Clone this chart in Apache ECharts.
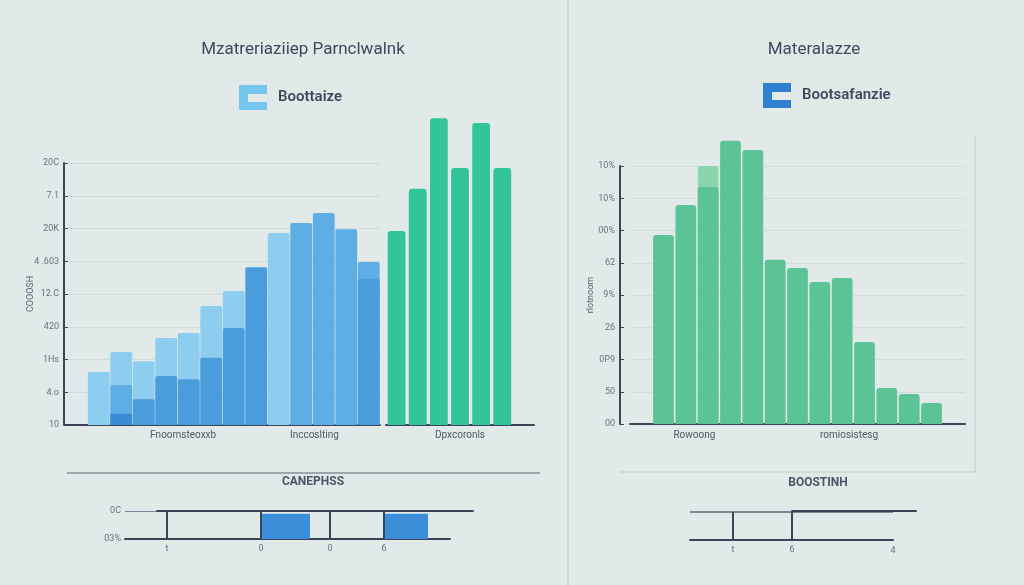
<!DOCTYPE html>
<html><head><meta charset="utf-8">
<script src="https://cdn.jsdelivr.net/npm/echarts/dist/echarts.min.js"></script>
<style>html,body{margin:0;padding:0;background:#e1eae9;}#c{width:1024px;height:585px;}</style>
</head><body><div id="c"></div>
<script>
// ---- texts ----
const leftTitle = 'Mzatreriaziiep Parnclwalnk';
const rightTitle = 'Materalazze';
const leftLegend = 'Boottaize';
const rightLegend = 'Bootsafanzie';
const leftYName = 'COOOSH';
const rightYName = 'rlotnoom';
const leftTicks = ['10', '4.o', '1Hs', '420', '12.C', '4 .603', '20K', '7.1', '20C'];
const rightTicks = ['00', '50', '0P9', '26', '9%', '62', '00%', '10%', '10%'];
const leftXLabels = ['', '', '', '', 'Fnoomsteoxxb', '', '', '', '', 'Inccoslting', '', ''];
const greenXLabels = ['', '', '', 'Dpxcoronls', '', '', ''];
const rightXLabels = ['', '', 'Rowoong', '', '', '', '', '', 'romiosistesg', '', '', '', ''];
const leftMiniTitle = 'CANEPHSS';
const rightMiniTitle = 'BOOSTINH';
const leftMiniY = ['03%', '0C'];
const rightMiniEndLabel = '4';

// ---- values ----
const blueLight  = [1.62, 2.23, 1.95, 2.66, 2.81, 3.63, 4.09, null, 5.86, null, null, null, null];
const blueMid    = [null, 1.22, null, null, null, null, null, null, null, 6.17, 6.47, 5.98, 4.98];
const blueDark   = [null, null, 0.79, 1.50, 1.40, 2.05, 2.96, 4.82, null, null, null, null, 4.46];
const blueDeep   = [null, 0.34, null, null, null, null, null, null, null, null, null, null, null];
const greenLeft  = [5.92, 7.21, 9.37, 7.85, 9.22, 7.85];
const greenRight = [5.86, 6.79, 7.35, 8.78, 8.50, 5.09, 4.84, 4.40, 4.53, 2.54, 1.12, 0.93, 0.65];
const greenRightLight = [null, null, 8.0, null, null, null, null, null, null, null, null, null, null];

const leftMiniMarks = [1.68, 5.44, 8.2, 10.36];
const leftMiniMarkLabels = ['t', '0', '0', '6'];
const leftMiniSpans = [[5.44, 7.4], [10.36, 12.12]];
const rightMiniMarks = [1.69, 4.02];
const rightMiniMarkLabels = ['t', '6'];

// ---- build ----
const AX = '#3b4557';
const TXT = '#3d4a5d';
const LBL = '#667180';
const pad = (arr, before, after) => [].concat(Array(before).fill(null), arr, Array(after).fill(null));
const keys = n => Array.from({length: n}, (_, i) => 'k' + i);

const chart = echarts.init(document.getElementById('c'), null, {renderer: 'canvas'});
const cIcon = 'path://M0,0H28V9H9V17H28V25H0Z';

const option = {
  backgroundColor: '#e1eae9',
  animation: false,
  textStyle: {fontFamily: 'Roboto, "Open Sans", sans-serif'},
  title: [
    {text: leftTitle, left: 303, top: 41, textAlign: 'center', padding: 0,
     textStyle: {fontSize: 17, fontWeight: 'normal', color: TXT}},
    {text: rightTitle, left: 814, top: 41, textAlign: 'center', padding: 0,
     textStyle: {fontSize: 17, fontWeight: 'normal', color: TXT}},
    {text: leftMiniTitle, left: 313, top: 476, textAlign: 'center', padding: 0,
     textStyle: {fontSize: 12, fontWeight: 'bold', color: '#4a5568'}},
    {text: rightMiniTitle, left: 818, top: 477, textAlign: 'center', padding: 0,
     textStyle: {fontSize: 12, fontWeight: 'bold', color: '#4a5568'}}
  ],
  legend: [
    {left: 239, top: 85, padding: 0, itemWidth: 28, itemHeight: 25, selectedMode: false,
     data: [{name: leftLegend, icon: cIcon, itemStyle: {color: '#74c6ee'}}],
     textStyle: {fontSize: 15, fontWeight: 600, color: TXT, padding: [0, 0, 0, 6]}},
    {left: 763, top: 83, padding: 0, itemWidth: 28, itemHeight: 25, selectedMode: false,
     data: [{name: rightLegend, icon: cIcon, itemStyle: {color: '#2f80d1'}}],
     textStyle: {fontSize: 15, fontWeight: 600, color: TXT, padding: [0, 0, 0, 6]}}
  ],
  grid: [
    {left: 65, top: 163, width: 315, height: 262},
    {left: 386, top: 163, width: 148, height: 262},
    {left: 630, top: 166, width: 335, height: 258},
    {left: 157, top: 511, width: 316, height: 28},
    {left: 125, top: 511, width: 325, height: 28},
    {left: 792, top: 511, width: 124, height: 28},
    {left: 690, top: 512, width: 203, height: 28}
  ],
  xAxis: [
    {gridIndex: 0, type: 'category', data: keys(14), axisLine: {lineStyle: {color: AX, width: 2}},
     axisTick: {show: false}, axisLabel: {show: false}},
    {gridIndex: 0, type: 'category', data: keys(leftXLabels.length), position: 'bottom',
     axisLine: {show: false}, axisTick: {show: false},
     axisLabel: {interval: 0, margin: 5, fontSize: 10, color: '#4d5868', formatter: (v, i) => leftXLabels[i]}},
    {gridIndex: 1, type: 'category', data: keys(greenXLabels.length),
     axisLine: {lineStyle: {color: AX, width: 2}}, axisTick: {show: false},
     axisLabel: {interval: 0, margin: 5, fontSize: 10, color: '#4d5868', formatter: (v, i) => greenXLabels[i]}},
    {gridIndex: 2, type: 'category', data: keys(15), axisLine: {lineStyle: {color: AX, width: 2}},
     axisTick: {show: false}, axisLabel: {show: false}},
    {gridIndex: 2, type: 'category', data: keys(rightXLabels.length), position: 'bottom',
     axisLine: {show: false}, axisTick: {show: false},
     axisLabel: {interval: 0, margin: 6, fontSize: 10, color: '#4d5868', formatter: (v, i) => rightXLabels[i]}},
    {gridIndex: 3, type: 'value', position: 'top', min: 0, max: 1,
     axisLine: {show: true, onZero: false, lineStyle: {color: AX, width: 2}}, axisTick: {show: false},
     axisLabel: {show: false}, splitLine: {show: false}},
    {gridIndex: 4, type: 'value', min: 0, max: 13,
     axisLine: {show: true, onZero: false, lineStyle: {color: AX, width: 2}}, axisTick: {show: false},
     axisLabel: {show: false}, splitLine: {show: false}},
    {gridIndex: 5, type: 'value', position: 'top', min: 0, max: 1,
     axisLine: {show: true, onZero: false, lineStyle: {color: AX, width: 2}}, axisTick: {show: false},
     axisLabel: {show: false}, splitLine: {show: false}},
    {gridIndex: 6, type: 'value', min: 0, max: 8, interval: 8,
     axisLine: {show: true, onZero: false, lineStyle: {color: AX, width: 2}}, axisTick: {show: false},
     axisLabel: {show: true, fontSize: 9, color: LBL, margin: 6, showMinLabel: false,
       formatter: (v) => (v === 8 ? rightMiniEndLabel : '')},
     splitLine: {show: false}}
  ],
  yAxis: [
    {gridIndex: 0, type: 'value', min: 0, max: 8, interval: 1, offset: 1,
     name: leftYName, nameLocation: 'middle', nameRotate: 90, nameGap: 29, nameMoveOverlap: false,
     nameTextStyle: {fontSize: 9, color: '#5a6575'},
     axisLine: {show: true, lineStyle: {color: AX, width: 2}},
     axisTick: {show: true, inside: true, length: 4, lineStyle: {color: AX}},
     axisLabel: {fontSize: 9, color: LBL, margin: 5, formatter: (v) => leftTicks[Math.round(v)]},
     splitLine: {lineStyle: {color: '#d2dbdb', width: 1}}},
    {gridIndex: 1, type: 'value', min: 0, max: 8, show: false},
    {gridIndex: 2, type: 'value', min: 0, max: 8, interval: 1, offset: 10,
     name: rightYName, nameLocation: 'middle', nameRotate: 90, nameGap: 25, nameMoveOverlap: false,
     nameTextStyle: {fontSize: 9, color: '#5a6575'},
     axisLine: {show: true, lineStyle: {color: AX, width: 2}},
     axisTick: {show: true, inside: true, length: 4, lineStyle: {color: AX}},
     axisLabel: {fontSize: 9, color: LBL, margin: 5, formatter: (v) => rightTicks[Math.round(v)]},
     splitLine: {lineStyle: {color: '#d2dbdb', width: 1}}},
    {gridIndex: 3, type: 'value', min: 0, max: 1, show: false},
    {gridIndex: 4, type: 'value', min: 0, max: 1, interval: 1,
     axisLine: {show: false}, axisTick: {show: false},
     axisLabel: {fontSize: 9, color: LBL, margin: 4, formatter: (v) => leftMiniY[Math.round(v)]},
     splitLine: {show: true, lineStyle: {color: '#7d8795', width: 1}}},
    {gridIndex: 5, type: 'value', min: 0, max: 1, show: false},
    {gridIndex: 6, type: 'value', min: 0, max: 1, interval: 1,
     axisLine: {show: false}, axisTick: {show: false}, axisLabel: {show: false},
     splitLine: {show: true, lineStyle: {color: '#5f6977', width: 1.5}}}
  ],
  series: [
    {name: leftLegend, type: 'bar', xAxisIndex: 0, yAxisIndex: 0, data: pad(blueLight, 1, 0),
     barGap: '-100%', barCategoryGap: '3%', itemStyle: {color: '#8dcdf0', borderRadius: [2, 2, 0, 0]}},
    {name: 'mid', type: 'bar', xAxisIndex: 0, yAxisIndex: 0, data: pad(blueMid, 1, 0),
     barGap: '-100%', barCategoryGap: '3%', itemStyle: {color: '#5eade5', borderRadius: [2, 2, 0, 0]}},
    {name: 'dark', type: 'bar', xAxisIndex: 0, yAxisIndex: 0, data: pad(blueDark, 1, 0),
     barGap: '-100%', barCategoryGap: '3%', itemStyle: {color: '#4b9cdb', borderRadius: [2, 2, 0, 0]}},
    {name: 'deep', type: 'bar', xAxisIndex: 0, yAxisIndex: 0, data: pad(blueDeep, 1, 0),
     barGap: '-100%', barCategoryGap: '3%', itemStyle: {color: '#3a8ad5'}},
    {name: 'greenL', type: 'bar', xAxisIndex: 2, yAxisIndex: 1, data: pad(greenLeft, 0, 1), clip: false,
     barCategoryGap: '16%', itemStyle: {color: '#31c597', borderRadius: [3, 3, 0, 0]}},
    {name: 'greenRLight', type: 'bar', xAxisIndex: 3, yAxisIndex: 2, data: pad(greenRightLight, 1, 1), clip: false,
     barGap: '-100%', barCategoryGap: '7%', itemStyle: {color: '#8ad5ab', borderRadius: [3, 3, 0, 0]}},
    {name: rightLegend, type: 'bar', xAxisIndex: 3, yAxisIndex: 2, data: pad(greenRight, 1, 1), clip: false,
     barGap: '-100%', barCategoryGap: '7%', itemStyle: {color: '#5cc396', borderRadius: [3, 3, 0, 0]}},
    {name: 'miniL', type: 'line', xAxisIndex: 6, yAxisIndex: 4, data: [], silent: true,
     markLine: {symbol: ['none', 'none'], silent: true,
       lineStyle: {color: AX, width: 2, type: 'solid'},
       label: {position: 'start', fontSize: 9, color: LBL, distance: 5},
       data: leftMiniMarks.map((v, i) => ({xAxis: v, label: {formatter: leftMiniMarkLabels[i]}}))},
     markArea: {silent: true, itemStyle: {color: '#3d8ed8'},
       data: leftMiniSpans.map(s => [{xAxis: s[0], yAxis: 0}, {xAxis: s[1], yAxis: 0.9}])}},
    {name: 'miniR', type: 'line', xAxisIndex: 8, yAxisIndex: 6, data: [], silent: true,
     markLine: {symbol: ['none', 'none'], silent: true,
       lineStyle: {color: AX, width: 2, type: 'solid'},
       label: {position: 'start', fontSize: 9, color: LBL, distance: 5},
       data: rightMiniMarks.map((v, i) => ({xAxis: v, label: {formatter: rightMiniMarkLabels[i]}}))}}
  ],
  graphic: [
    {type: 'line', shape: {x1: 568, y1: 0, x2: 568, y2: 585}, style: {stroke: '#cdd6d6', lineWidth: 1.5}, silent: true},
    {type: 'line', shape: {x1: 67, y1: 473, x2: 540, y2: 473}, style: {stroke: '#59636f', lineWidth: 1}, silent: true},
    {type: 'line', shape: {x1: 620, y1: 472, x2: 975, y2: 472}, style: {stroke: '#cbd4d4', lineWidth: 1.5}, silent: true},
    {type: 'line', shape: {x1: 975, y1: 135, x2: 975, y2: 472}, style: {stroke: '#cbd4d4', lineWidth: 1.5}, silent: true}
  ]
};
chart.setOption(option);
</script>
</body></html>
